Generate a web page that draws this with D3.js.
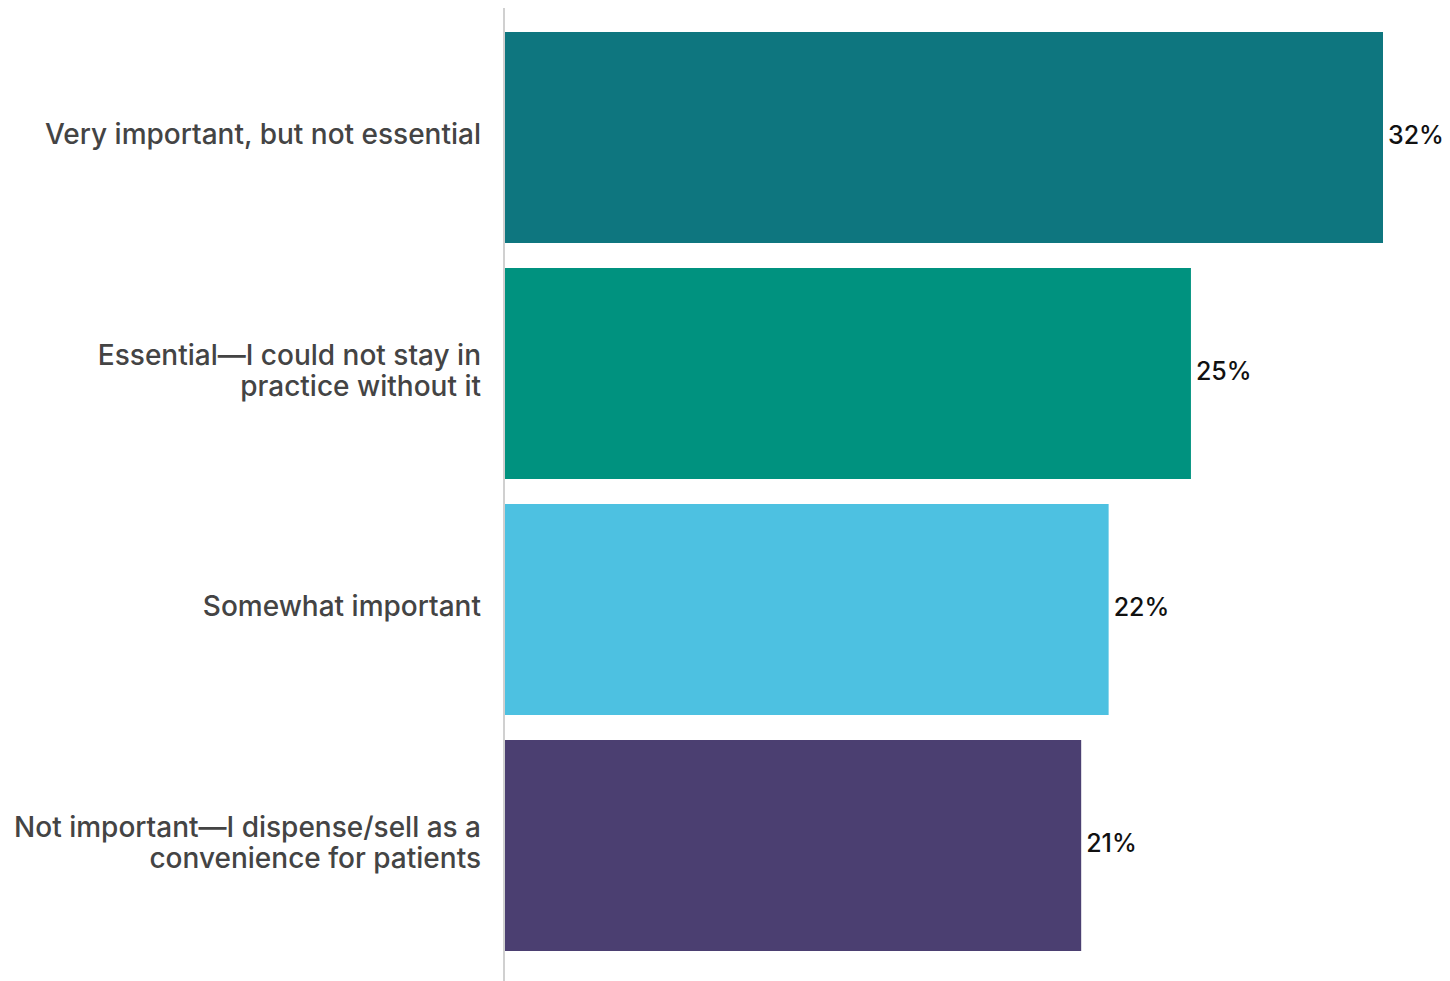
<!DOCTYPE html>
<html><head><meta charset="utf-8">
<script src="https://cdn.jsdelivr.net/npm/d3@7"></script>
<style>body{margin:0;background:#fff}svg{display:block}</style>
</head><body>
<svg id="chart" width="1450" height="981"></svg>
<script>
const categories = [
  ["Very important, but not essential"],
  ["Essential\u2014I could not stay in", "practice without it"],
  ["Somewhat important"],
  ["Not important\u2014I dispense/sell as a", "convenience for patients"]
];
const values = [32, 25, 22, 21];
const valueLabels = ["32%", "25%", "22%", "21%"];
const colors = ["#0e767f", "#00927f", "#4dc1e1", "#4b3f71"];

const svg = d3.select("#chart");
const font = "Inter, 'Open Sans', sans-serif";
const x = d3.scaleLinear().domain([0, 32]).range([505, 1383]);
const y = d3.scaleBand().domain(d3.range(values.length)).range([20, 963]).paddingInner(25/236).paddingOuter(12/236);

svg.append("line").attr("x1", 504).attr("x2", 504).attr("y1", 8).attr("y2", 981)
  .attr("stroke", "#d0d0d0").attr("stroke-width", 2);

svg.selectAll("rect.bar").data(values).join("rect").attr("class", "bar")
  .attr("x", x(0)).attr("y", (d, i) => y(i))
  .attr("width", d => x(d) - x(0)).attr("height", y.bandwidth())
  .attr("fill", (d, i) => colors[i]);

svg.selectAll("text.val").data(values).join("text").attr("class", "val")
  .attr("x", d => x(d) + 5).attr("y", (d, i) => y(i) + y.bandwidth() / 2 - 2)
  .attr("dy", "0.35em").attr("font-family", font).attr("font-size", 25)
  .attr("font-weight", 500).attr("fill", "#111").text((d, i) => valueLabels[i]);

const lab = svg.selectAll("text.lab").data(categories).join("text").attr("class", "lab")
  .attr("font-family", font).attr("font-size", 28).attr("font-weight", 500).attr("fill", "#444")
  .attr("text-anchor", "end");
lab.each(function(lines, i) {
  const t = d3.select(this);
  const cy = y(i) + y.bandwidth() / 2 - 3;
  const lh = 31;
  lines.forEach((l, k) => {
    t.append("tspan").attr("x", 481)
      .attr("y", cy + (k - (lines.length - 1) / 2) * lh).attr("dy", "0.35em").text(l);
  });
});
</script>
</body></html>
